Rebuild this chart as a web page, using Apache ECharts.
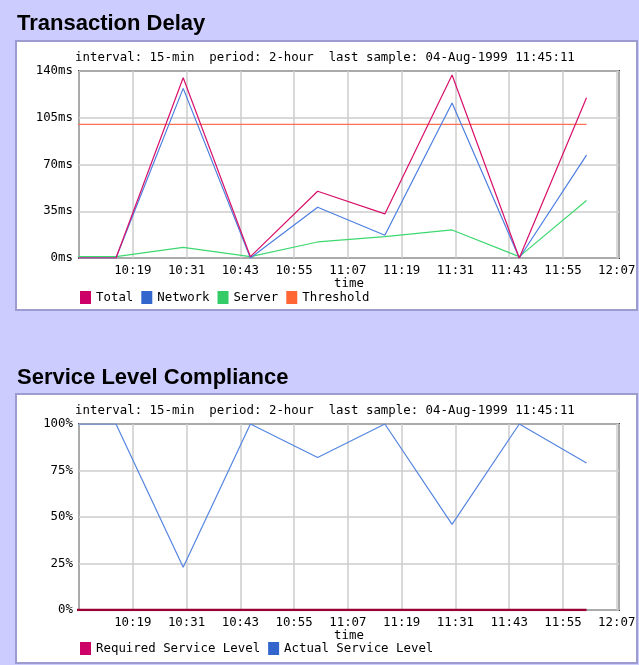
<!DOCTYPE html>
<html>
<head>
<meta charset="utf-8">
<script src="https://cdn.jsdelivr.net/npm/echarts@6/dist/echarts.min.js"></script>
<style>
  html, body { margin: 0; padding: 0; background: #ccccff; }
  #main { width: 639px; height: 665px; }
</style>
</head>
<body>
<div id="main"></div>
<script>
// sample times (15-min interval)
let times = ['10:00:15', '10:15:15', '10:30:15', '10:45:15', '11:00:15', '11:15:15', '11:30:15', '11:45:15', '12:00:15']

// Transaction Delay (ms)
let total = [0, 0, 135, 1, 50, 33, 137, 0, 120]
let network = [0, 0, 127, 0, 38, 17, 116, 0, 77]
let server = [1, 1, 8, 1, 12, 16, 21, 1, 43]
let threshold = [100, 100, 100, 100, 100, 100, 100, 100, 100]

// Service Level Compliance (%)
let required = [0, 0, 0, 0, 0, 0, 0, 0, 0]
let actual = [100, 100, 23, 100, 82, 100, 46, 100, 79]

let subtitle = 'interval: 15-min  period: 2-hour  last sample: 04-Aug-1999 11:45:11'

// x axis runs 10:07 .. 12:07:30, ticks every 12 min
let axisStart = '10:07:00'
let axisEnd = '12:07:30'

let toMin = t => {
    let p = t.split(':')
    return +p[0] * 60 + +p[1] + (+p[2] || 0) / 60
}
let base = toMin(axisStart)
let fmtTime = v => {
    let m = Math.round(base + v)
    let h = Math.floor(m / 60)
    let mm = m % 60
    return h + ':' + (mm < 10 ? '0' : '') + mm
}
let pts = vals => vals.map((v, i) => [toMin(times[i]) - base, v])

let mono = 'DejaVu Sans Mono'
let monoSize = 12.4

let xAxisOf = gridIndex => ({
    type: 'value',
    gridIndex: gridIndex,
    min: 0,
    max: toMin(axisEnd) - base,
    interval: 12,
    name: 'time',
    nameLocation: 'middle',
    nameGap: 18,
    nameTextStyle: { fontFamily: mono, fontSize: monoSize, color: '#000' },
    axisLine: { show: false },
    axisTick: { show: false },
    axisLabel: {
        formatter: fmtTime,
        showMinLabel: false,
        showMaxLabel: false,
        fontFamily: mono, fontSize: monoSize, color: '#000', margin: 7
    },
    splitLine: { show: true, lineStyle: { color: '#cccccc', width: 1.5 } }
})

let yAxisOf = (gridIndex, max, interval, unit) => ({
    type: 'value',
    gridIndex: gridIndex,
    min: 0,
    max: max,
    interval: interval,
    axisLine: { show: false },
    axisTick: { show: false },
    axisLabel: {
        formatter: '{value}' + unit,
        fontFamily: mono, fontSize: monoSize, color: '#000', margin: 6
    },
    splitLine: { show: true, lineStyle: { color: '#cccccc', width: 1.5 } }
})

let lineOf = (name, data, legendColor, lineColor, idx, width) => ({
    name: name,
    type: 'line',
    xAxisIndex: idx,
    yAxisIndex: idx,
    data: pts(data),
    symbol: 'none',
    itemStyle: { color: legendColor },
    lineStyle: { color: lineColor, width: width || 1.2 }
})

let headingStyle = { fontFamily: 'Liberation Sans', fontWeight: 'bold', fontSize: 22, color: '#000' }
let subStyle = { fontFamily: mono, fontSize: monoSize, fontWeight: 'normal', color: '#000' }
let legendStyle = { fontFamily: mono, fontSize: monoSize, color: '#000' }

let myChart = echarts.init(document.getElementById('main'))

myChart.setOption({
    backgroundColor: '#ccccff',
    animation: false,
    graphic: [
        { type: 'rect', z: -10, shape: { x: 16, y: 41, width: 621, height: 269 },
          style: { fill: '#ffffff', stroke: '#9c9cd0', lineWidth: 2 } },
        { type: 'rect', z: -10, shape: { x: 16, y: 394, width: 621, height: 269 },
          style: { fill: '#ffffff', stroke: '#9c9cd0', lineWidth: 2 } }
    ],
    title: [
        { text: 'Transaction Delay', left: 12, top: 8, textStyle: headingStyle },
        { text: subtitle, left: 70, top: 47, textStyle: subStyle },
        { text: 'Service Level Compliance', left: 12, top: 362, textStyle: headingStyle },
        { text: subtitle, left: 70, top: 400, textStyle: subStyle }
    ],
    legend: [
        { data: ['Total', 'Network', 'Server', 'Threshold'], left: 75, top: 286,
          icon: 'rect', itemWidth: 11, itemHeight: 13, itemGap: 8, textStyle: legendStyle },
        { data: ['Required Service Level', 'Actual Service Level'], left: 75, top: 637,
          icon: 'rect', itemWidth: 11, itemHeight: 13, itemGap: 8, textStyle: legendStyle }
    ],
    grid: [
        { left: 79, top: 71, width: 540, height: 187, show: true,
          backgroundColor: '#ffffff', borderColor: '#444444', borderWidth: 2 },
        { left: 79, top: 424, width: 540, height: 186, show: true,
          backgroundColor: '#ffffff', borderColor: '#444444', borderWidth: 2 }
    ],
    xAxis: [xAxisOf(0), xAxisOf(1)],
    yAxis: [yAxisOf(0, 140, 35, 'ms'), yAxisOf(1, 100, 25, '%')],
    series: [
        lineOf('Threshold', threshold, '#ff6633', '#ff7050', 0),
        lineOf('Server', server, '#33cc66', '#3ed870', 0),
        lineOf('Network', network, '#3366cc', '#4d7fe0', 0),
        lineOf('Total', total, '#cc0066', '#d8106a', 0),
        lineOf('Required Service Level', required, '#cc0066', '#990033', 1, 2.5),
        lineOf('Actual Service Level', actual, '#3366cc', '#5585e0', 1)
    ]
})
</script>
</body>
</html>
